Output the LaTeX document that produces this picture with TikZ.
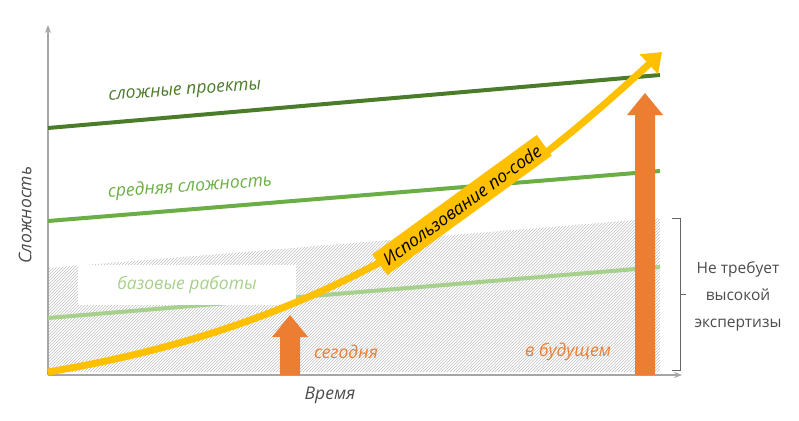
\documentclass[tikz,border=0pt]{standalone}
\usepackage{fontspec}
\setmainfont{Open Sans}
\usetikzlibrary{arrows.meta, patterns, positioning}
\definecolor{dkgreen}{HTML}{4A7C2A}
\definecolor{mdgreen}{HTML}{6AAE45}
\definecolor{ltgreen}{HTML}{A8D08D}
\definecolor{orng}{HTML}{ED7D31}
\definecolor{ylw}{HTML}{FFC000}
\definecolor{axgray}{HTML}{A6A6A6}
\tikzset{
  lbl/.style={font=\itshape\fontsize{17.5}{20}\selectfont},
  level/.style={line width=4pt},
}
\begin{document}
\begin{tikzpicture}[x=1pt, y=-1pt]
  \useasboundingbox (0,0) rectangle (799,420);
  % hatched zone
  \fill[pattern={north east lines}, pattern color=black!25] (48,268) -- (660,218) -- (660,372) -- (48,372) -- cycle;
  % axes
  \coordinate (o) at (48,375);
  \coordinate (ytop) at (48,25);
  \coordinate (xend) at (682,375);
  \draw[axgray, line width=1.5pt, -{Stealth[length=8pt]}] (o) -- (ytop);
  \draw[axgray, line width=1.5pt, -{Stealth[length=8pt]}] (o) -- (xend);
  \node[lbl, text=black!70, rotate=90] (ylab) at (25,215) {Сложность};
  \node[lbl, text=black!70] (xlab) at (330,395) {Время};
  % levels
  \draw[level, dkgreen] (48,128) -- (660,75);
  \draw[level, mdgreen] (48,221) -- (660,171);
  \draw[level, ltgreen] (48,318) -- (660,267);
  \node[lbl, text=dkgreen, rotate=4] (hard) at (185,92) {сложные проекты};
  \node[lbl, text=mdgreen, rotate=4] (mid) at (190,187) {средняя сложность};
  \node[lbl, text=ltgreen, fill=white, minimum width=218pt, minimum height=40pt] (base) at (187,285) {базовые работы};
  % orange arrows
  \fill[orng] (280,375) -- (280,337) -- (272,337) -- (290,315) -- (308,337) -- (300,337) -- (300,375) -- cycle;
  \fill[orng] (635,375) -- (635,115) -- (627,115) -- (645,93) -- (663,115) -- (655,115) -- (655,375) -- cycle;
  \node[lbl, text=orng] (now) at (346,352) {сегодня};
  \node[lbl, text=orng] (fut) at (568,352) {в будущем};
  % no-code curve
  \draw[ylw, line width=7pt, -{Triangle[length=18pt, width=26pt]}] (48,372) .. controls (300,330) and (470,230) .. (662,52);
  \node[lbl, fill=ylw, text=black, rotate=36, inner sep=6pt] (nc) at (462,205) {Использование no-code};
  % bracket
  \draw[black!60, line width=1pt] (672,218) -- (680,218) -- (680,370) -- (672,370);
  \draw[black!60, line width=1pt] (680,294) -- (686,294);
  \node[align=center, font=\fontsize{15.5}{27}\selectfont, text=black!70] (note) at (738,296) {Не требует\\высокой\\экспертизы};
\end{tikzpicture}
\end{document}
